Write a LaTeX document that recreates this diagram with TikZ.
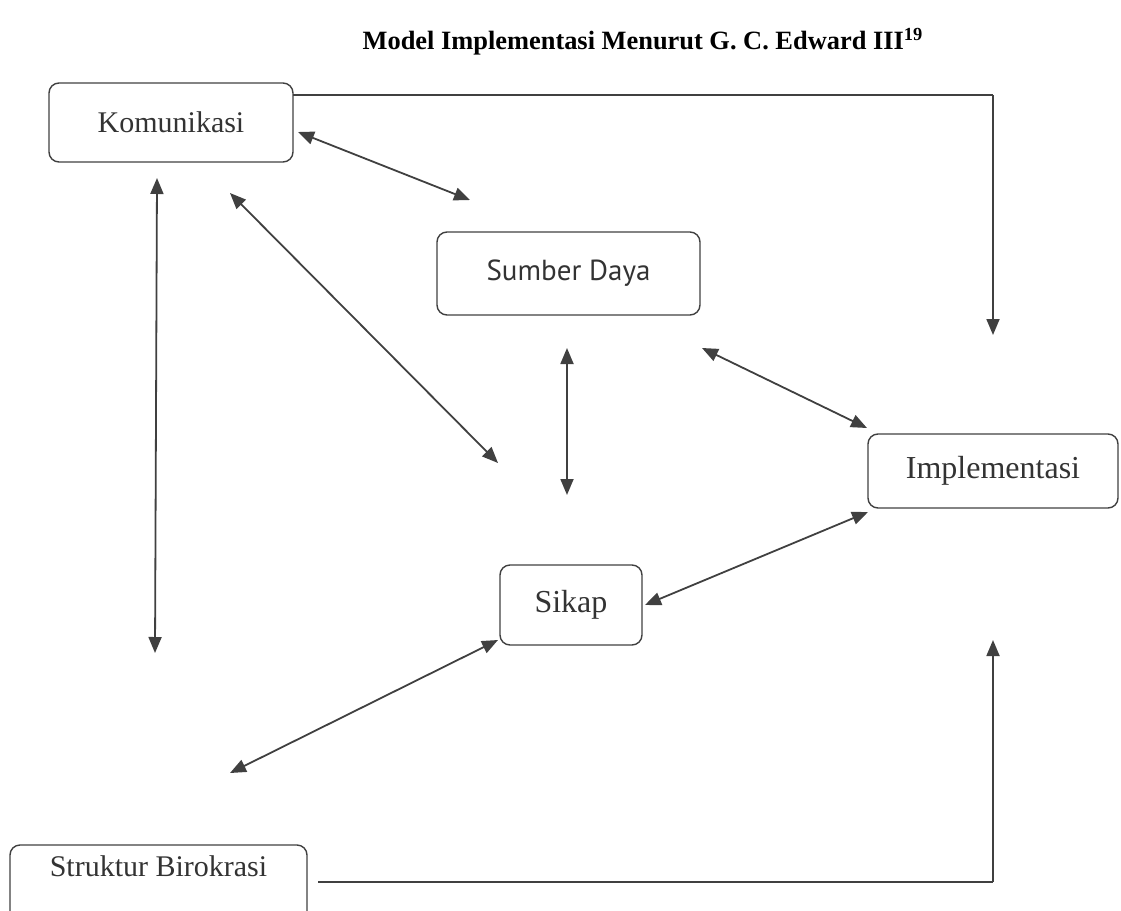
\documentclass[tikz,border=0pt]{standalone}
\usepackage{fontspec}
\setmainfont{Liberation Serif}
\newfontfamily\sdfont{PT Sans}
\usetikzlibrary{arrows.meta}
\tikzstyle{box} = [rectangle, rounded corners=5pt, draw=black!75, line width=0.7pt, text centered, font=\fontsize{15}{18}\selectfont, text=black!80]
\tikzstyle{arrow} = [line width=0.9pt, draw=black!75, -{Triangle[length=8pt,width=6.5pt]}]
\tikzstyle{darrow} = [line width=0.9pt, draw=black!75, {Triangle[length=8pt,width=6.5pt]}-{Triangle[length=8pt,width=6.5pt]}]
\tikzstyle{line} = [line width=0.9pt, draw=black!75]

\begin{document}
\begin{tikzpicture}[x=0.5pt, y=-0.5pt]
\useasboundingbox (0,0) rectangle (1121,911);

\node (title) at (643,42) {\fontsize{13.2}{16}\selectfont\bfseries Model Implementasi Menurut G. C. Edward III\textsuperscript{19}};

\node (kom) [box, minimum width=122pt, minimum height=39.5pt] at (171,122.5) {Komunikasi};
\node (sd) [box, minimum width=131.5pt, minimum height=41.5pt, font=\sdfont\fontsize{14.5}{17}\selectfont] at (568.5,273.5) {Sumber Daya};
\node (impl) [box, minimum width=125pt, minimum height=37pt, font=\fontsize{16}{19}\selectfont] at (993,471) {Implementasi};
\node (sikap) [box, minimum width=71pt, minimum height=40pt, font=\fontsize{16}{19}\selectfont] at (571,605) {Sikap};
\node (struk) [box, minimum width=148.5pt, minimum height=42.5pt, text height=10pt, text depth=21.5pt] at (158.5,887.5) {Struktur Birokrasi};

% free ends of the connectors
\coordinate (komR) at (293,95);
\coordinate (topR) at (993,95);
\coordinate (implIn) at (993,335);
\coordinate (strukR) at (318,882);
\coordinate (botR) at (993,882);
\coordinate (implUp) at (993,640);
\coordinate (a1) at (298,132);
\coordinate (a2) at (470,200);
\coordinate (b1) at (157,178);
\coordinate (b2) at (155,653);
\coordinate (c1) at (230,193);
\coordinate (c2) at (498,463);
\coordinate (d1) at (567,348);
\coordinate (d2) at (567,495);
\coordinate (e1) at (702,348);
\coordinate (e2) at (867,428);
\coordinate (f1) at (868,512);
\coordinate (f2) at (645,605);
\coordinate (g1) at (498,640);
\coordinate (g2) at (230,773);

\draw [line] (komR) -- (topR);
\draw [arrow] (topR) -- (implIn);
\draw [line] (strukR) -- (botR);
\draw [arrow] (botR) -- (implUp);

\draw [darrow] (a1) -- (a2);
\draw [darrow] (b1) -- (b2);
\draw [darrow] (c1) -- (c2);
\draw [darrow] (d1) -- (d2);
\draw [darrow] (e1) -- (e2);
\draw [darrow] (f1) -- (f2);
\draw [darrow] (g1) -- (g2);

\end{tikzpicture}
\end{document}
